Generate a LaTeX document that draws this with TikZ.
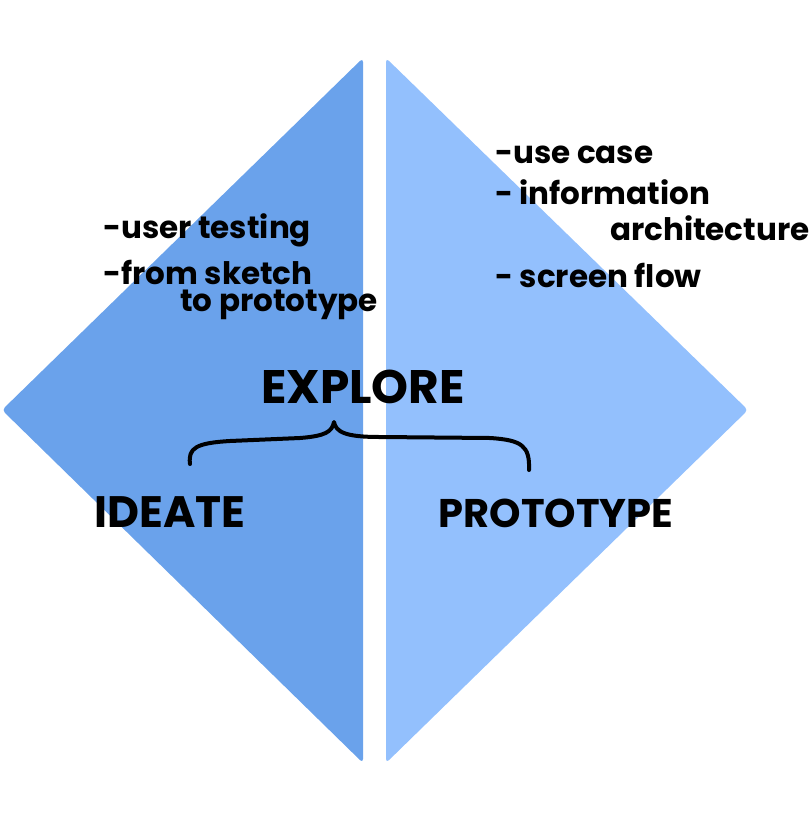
\documentclass[tikz,border=0pt]{standalone}
\usepackage{fontspec}
\setmainfont{Poppins}
\definecolor{leftblue}{HTML}{6AA2EB}
\definecolor{rightblue}{HTML}{93C0FD}
\begin{document}
\begin{tikzpicture}[x=1pt,y=-1pt,
  note/.style={anchor=west, inner sep=0pt, font=\fontsize{31}{33}\selectfont\bfseries},
  big/.style={anchor=center, inner sep=0pt, font=\bfseries},
  brace/.style={line width=4pt, line cap=round, line join=round}]
\useasboundingbox (0,0) rectangle (810,822);
\fill[leftblue, rounded corners=4pt] (363,58) -- (2,410) -- (363,763) -- cycle;
\fill[rightblue, rounded corners=4pt] (386,58) -- (748,410) -- (386,763) -- cycle;
\node[note] (ut) at (103,230) {-user testing};
\node[note] (fs) at (103,272) {-from sketch};
\node[note] (tp) at (180,305) {to prototype};
\node[note] (uc) at (495,155) {-use case};
\node[note] (ia) at (495,192) {- information};
\node[note] (ar) at (610,228) {architecture};
\node[note] (sf) at (495,275) {- screen flow};
\node[big, font=\fontsize{47}{50}\selectfont\bfseries] (ex) at (363,387) {EXPLORE};
\node[big, font=\fontsize{44}{48}\selectfont\bfseries] (id) at (170,512) {IDEATE};
\node[big, font=\fontsize{40}{44}\selectfont\bfseries] (pr) at (556,513) {PROTOTYPE};
\coordinate (bl) at (190,464);
\coordinate (bm) at (334,422);
\coordinate (br) at (529,470);
\draw[brace] (bl) .. controls (188,448) and (196,443) .. (230,441)
  -- (300,438) .. controls (325,436) and (332,432) .. (bm)
  .. controls (336,432) and (345,437) .. (380,437)
  -- (490,438) .. controls (522,440) and (530,446) .. (br);
\end{tikzpicture}
\end{document}
